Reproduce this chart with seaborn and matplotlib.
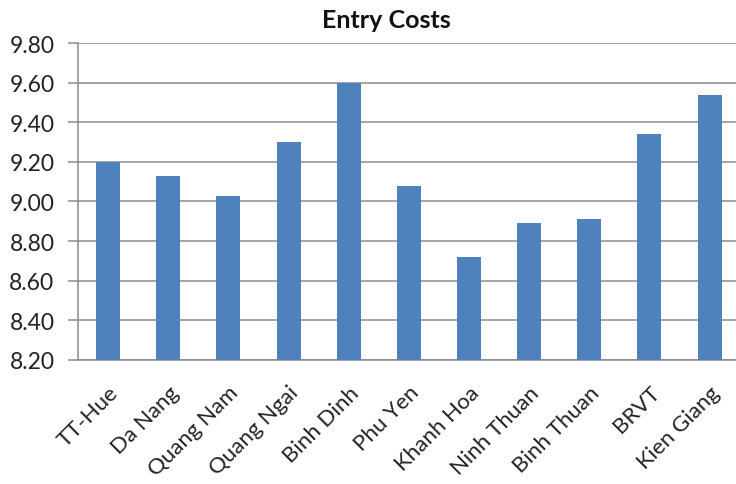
import numpy as np
import pandas as pd
import matplotlib
matplotlib.use("Agg")
import matplotlib.pyplot as plt
import matplotlib.transforms as mtransforms
import seaborn as sns

# Data
provinces = ["TT-Hue", "Da Nang", "Quang Nam", "Quang Ngai", "Binh Dinh", "Phu Yen",
             "Khanh Hoa", "Ninh Thuan", "Binh Thuan", "BRVT", "Kien Giang"]
entry_costs = [9.20, 9.13, 9.03, 9.30, 9.60, 9.08, 8.72, 8.89, 8.91, 9.34, 9.54]
y_ticks = [8.20, 8.40, 8.60, 8.80, 9.00, 9.20, 9.40, 9.60, 9.80]

df = pd.DataFrame({"Province": provinces, "Entry Costs": entry_costs})

sns.set_style("white")
plt.rcParams["font.family"] = ["Lato", "DejaVu Sans"]

fig = plt.figure(figsize=(7.36, 4.85), dpi=100)
ax = fig.add_axes([0.106, 0.256, 0.899, 0.653])

sns.barplot(data=df, x="Province", y="Entry Costs", color="#4F81BD",
            width=0.4, saturation=1, edgecolor="none", ax=ax, zorder=3)

ax.set_ylim(y_ticks[0], y_ticks[-1])
ax.set_yticks(y_ticks)
ax.set_yticklabels([f"{v:.2f}" for v in y_ticks], fontsize=16.5, color="#222222")
ax.yaxis.grid(True, color="#8C8C8C", linewidth=1.1, zorder=0)
ax.set_axisbelow(True)

ax.set_xlim(-0.5, len(provinces) - 0.5)
ax.set_xticks(range(len(provinces)))
ax.set_xticklabels(provinces, rotation=45, ha="right", rotation_mode="anchor",
                   fontsize=16, color="#222222")
shift = mtransforms.ScaledTranslation(-6 / 72, 0, fig.dpi_scale_trans)
for lbl in ax.get_xticklabels():
    lbl.set_transform(lbl.get_transform() + shift)
ax.set_xticks(np.arange(-0.5, len(provinces) + 0.5, 1), minor=True)
ax.tick_params(axis="x", which="major", length=0, pad=16)
ax.tick_params(axis="x", which="minor", length=8, width=1.1, color="#8C8C8C", direction="out")
ax.tick_params(axis="y", length=7, width=1.1, color="#8C8C8C", direction="out", left=True, pad=10)

for side in ["top", "right"]:
    ax.spines[side].set_visible(False)
for side in ["left", "bottom"]:
    ax.spines[side].set_color("#8C8C8C")
    ax.spines[side].set_linewidth(1.1)

ax.set_xlabel("")
ax.set_ylabel("")
fig.text(0.525, 0.958, "Entry Costs", ha="center", va="center",
         fontsize=18, fontweight="bold", color="#111111")

fig.savefig("out.png", dpi=100)
